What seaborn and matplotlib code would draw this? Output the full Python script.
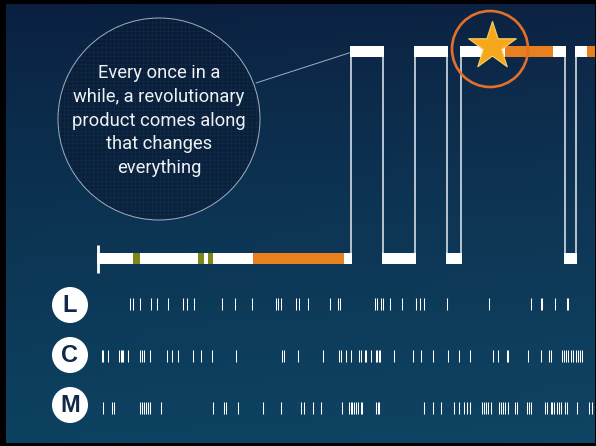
import numpy as np
import pandas as pd
import matplotlib
matplotlib.use('Agg')
import matplotlib.pyplot as plt
import seaborn as sns
from matplotlib.patches import Circle, Rectangle
from matplotlib.colors import to_rgb

# timeline: product history as a square wave (pixel coords of the slide)
seg_start = [97, 133, 140, 198, 204, 208, 213, 253, 344,
             350, 382, 414, 446, 460, 505, 553, 564, 575, 587]
seg_end = [133, 140, 198, 204, 208, 213, 253, 344, 352,
           384, 416, 448, 462, 505, 553, 566, 577, 587, 596]
seg_level = ['low'] * 9 + ['high', 'low', 'high', 'low', 'high', 'high', 'high', 'low', 'high', 'high']
seg_kind = ['plain', 'minor', 'plain', 'minor', 'plain', 'minor', 'plain', 'launch', 'plain',
            'plain', 'plain', 'plain', 'plain', 'plain', 'launch', 'plain', 'plain', 'plain', 'launch']
riser_x = [351, 383, 415, 447, 461, 565, 576]

# release ticks per row
l_ticks = [129.3, 132.7, 139.3, 150, 156, 167.7, 182.7, 186.7, 193.3, 221.7, 234.3, 251.7,
           275.7, 277.7, 280.7, 295, 298.3, 307, 329.3, 337.3, 339.3, 374, 376, 380.7, 382.7,
           389.3, 401.3, 415.3, 419.3, 423.3, 446.7, 488.7, 530.7, 540, 541.5, 554, 566, 567.3]
c_ticks = [101, 102.7, 107.7, 118.3, 120, 121.3, 122.7, 127.3, 139.3, 141.3, 143.3, 149.3,
           166.7, 171, 177.3, 192.7, 200.3, 211, 235, 281, 283.3, 297.3, 322.7, 338.3, 340,
           345.7, 350.7, 358.3, 360, 364.3, 365.3, 370.7, 375, 376.7, 378, 379.3, 393.3,
           412.3, 420, 432.7, 447.7, 458.7, 469.3, 492.7, 497.7, 506, 507.5, 527.3, 540.7,
           548.3, 550.7, 561.7, 563.3, 565.7, 567.7, 570.7, 572.7, 575.3, 577.3, 579.3, 581.7]
m_ticks = [102.7, 111, 113.3, 139.3, 141.3, 143.3, 145.3, 147.3, 149.3, 160, 212.3, 223.3,
           225.3, 237.3, 262.7, 280.7, 300.7, 303.3, 312.7, 320.7, 341.7, 348.3, 350, 351.7,
           353.3, 355.7, 357.7, 360, 361.7, 375.3, 377.3, 378.7, 423.3, 432.3, 440, 453.3,
           458.3, 463.3, 466.7, 469.3, 481.7, 483.3, 485.3, 487.3, 490, 498.7, 500.7, 502.7,
           504.3, 507.3, 514, 516, 526, 528.5, 530, 544.7, 546, 550, 551.7, 553.3, 556, 558,
           560, 564, 566.7, 576, 588.7, 591.7]
row_labels = ['L', 'C', 'M']

quote_lines = ['Every once in a', 'while, a revolutionary', 'product comes along',
               'that changes', 'everything']

sns.set_style('white')
W, H = 596, 446
fig = plt.figure(figsize=(W / 100, H / 100), dpi=100)
ax = fig.add_axes([0, 0, 1, 1])
ax.set_xlim(0, W)
ax.set_ylim(H, 0)
ax.set_axis_off()

# background gradient
top = np.array(to_rgb('#0a1e3e'))
bot = np.array(to_rgb('#0d4261'))
t = np.linspace(0, 1, H)[:, None, None]
xs = np.linspace(0, 1, W)[None, :, None]
grad = top + (bot - top) * (t ** 0.75) + 0.01 * xs
ax.imshow(np.clip(grad, 0, 1) * np.ones((1, W, 1)), extent=[0, W, H, 0], aspect='auto', zorder=0)

# callout bubble
ax.add_patch(Circle((159, 119), 101, facecolor='#081830', alpha=0.6, edgecolor='none', zorder=1))
plt.rcParams['hatch.linewidth'] = 0.3
ax.add_patch(Circle((159, 119), 101, facecolor='none', edgecolor='#17304c', hatch='++++', lw=0, zorder=1))
ax.add_patch(Circle((159, 119), 101, facecolor='none', edgecolor='#9fb0c0', lw=0.7, zorder=2))
ax.plot([256, 352], [83, 52], color='#9fb0c0', lw=0.7, zorder=2)
for i, line in enumerate(quote_lines):
    ax.text(159, 73 + i * 23.8, line, ha='center', va='center', color='#eef2f5',
            fontsize=13.2, family=['Roboto', 'DejaVu Sans'], fontweight='normal', zorder=3)

# timeline
kind_color = {'plain': 'white', 'minor': '#7d8617', 'launch': '#e8801f'}
level_y = {'low': 258.5, 'high': 51.5}
seg = pd.DataFrame({'start': seg_start, 'end': seg_end, 'level': seg_level, 'kind': seg_kind})
ax.vlines(riser_x, 56, 254, color='#c3d0da', lw=1.3, zorder=3)
for _, r in seg.iterrows():
    ax.barh(level_y[r['level']], r['end'] - r['start'], left=r['start'], height=11,
            color=kind_color[r['kind']], edgecolor='none', zorder=4)
ax.vlines([98], 245, 273, color='white', lw=2, zorder=4)

# star highlight
ax.add_patch(Circle((490, 49), 38, facecolor='none', edgecolor='#e2702b', lw=1.9, zorder=5))
sns.scatterplot(x=[492], y=[46], marker='*', s=1300, color='#f6a81c', edgecolor='#f8cf6a',
                linewidth=0.8, ax=ax, zorder=6, legend=False)

# release rows (ticks snapped to pixel centres so they stay crisp)
row_y = [304, 355.5, 407.5]
badge_y = [305, 355, 405]
ticks = pd.concat([pd.DataFrame({'x': np.floor(v) + 0.5, 'y': yy})
                   for v, yy in zip([l_ticks, c_ticks, m_ticks], row_y)])
sns.scatterplot(data=ticks, x='x', y='y', marker='|', s=63, color='white', linewidth=0.75,
                ax=ax, zorder=4, legend=False)
for lab, by in zip(row_labels, badge_y):
    ax.add_patch(Circle((70, by), 18, facecolor='white', edgecolor='none', zorder=4))
    ax.text(70, by + 0.5, lab, ha='center', va='center', color='#0f2a48', fontsize=17,
            family='Liberation Sans', fontweight='bold', zorder=5)

# dark frame
for x0, y0, w, h in [(0, 0, 6, H), (0, 0, W, 4), (0, H - 3, W, 3), (W - 1, 0, 1, H)]:
    ax.add_patch(Rectangle((x0, y0), w, h, facecolor='black', edgecolor='none', zorder=10))

ax.set_xlim(0, W)
ax.set_ylim(H, 0)
fig.savefig('out.png', dpi=100)
